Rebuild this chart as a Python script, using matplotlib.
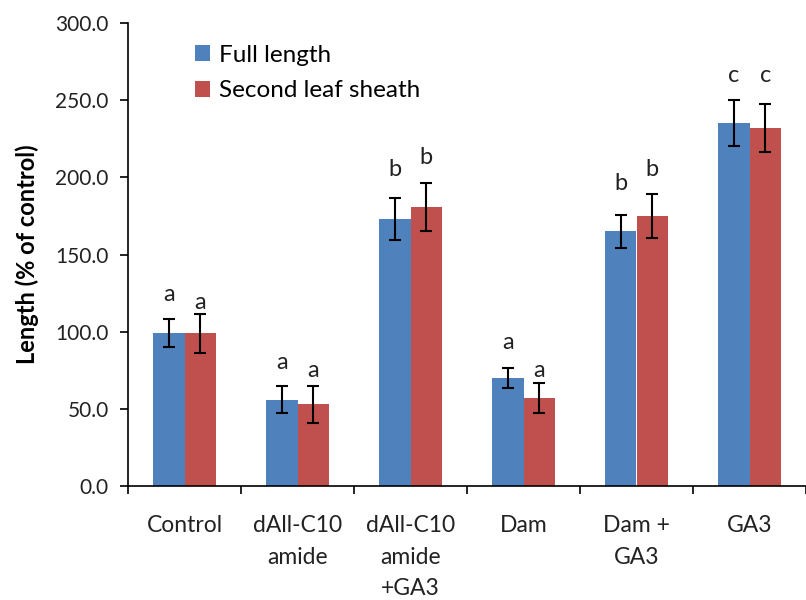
import numpy as np
import matplotlib.pyplot as plt

plt.rcParams['font.family'] = ['Lato', 'DejaVu Sans']

# data
categories = ['Control', 'dAll-C10\namide', 'dAll-C10\namide\n+GA3', 'Dam', 'Dam +\nGA3', 'GA3']
full_length = [99, 56, 173, 70, 165, 235]
full_err = [9, 9, 13.5, 6.5, 10.5, 15]
sheath = [99, 53, 181, 57, 175, 232]
sheath_err = [12.5, 12, 15.5, 9.5, 14.5, 15.5]
full_letters = ['a', 'a', 'b', 'a', 'b', 'c']
sheath_letters = ['a', 'a', 'b', 'a', 'b', 'c']
full_letter_y = [124, 80, 205, 93, 196, 266]
sheath_letter_y = [119, 75, 213, 75, 205, 266]

blue = '#4F81BD'
red = '#C0504D'

fig = plt.figure(figsize=(8.06, 6.0), dpi=100)
ax = fig.add_axes([128 / 806, 1 - 486 / 600, 1 - 128 / 806, (486 - 23) / 600])

x = np.arange(len(categories))
w = 0.28

ax.bar(x - w / 2, full_length, w, color=blue, label='Full length')
ax.bar(x + w / 2, sheath, w, color=red, label='Second leaf sheath')
ax.errorbar(x - w / 2, full_length, yerr=full_err, fmt='none', ecolor='black',
            elinewidth=1.5, capsize=4.5, capthick=1.5)
ax.errorbar(x + w / 2, sheath, yerr=sheath_err, fmt='none', ecolor='black',
            elinewidth=1.5, capsize=4.5, capthick=1.5)

for i in range(len(categories)):
    ax.text(x[i] - w / 2, full_letter_y[i], full_letters[i], ha='center', va='center',
            fontsize=17, color='#222222')
    ax.text(x[i] + w / 2, sheath_letter_y[i], sheath_letters[i], ha='center', va='center',
            fontsize=17, color='#222222')

ax.set_xlim(-0.5, -0.5 + (806 - 128) / 113.7)
ax.set_ylim(0, 300)
ax.set_yticks(np.arange(0, 301, 50))
ax.set_yticklabels(['%.1f' % v for v in np.arange(0, 301, 50)], fontsize=15, color='#222222')

# ticks at category boundaries, labels at centers
ax.set_xticks(np.arange(-0.5, len(categories) + 0.5, 1))
ax.set_xticklabels([])
ax.set_xticks(x, minor=True)
ax.set_xticklabels(categories, minor=True, fontsize=16.5, color='#222222', linespacing=1.62)
ax.tick_params(axis='x', which='minor', length=0, pad=21)
ax.tick_params(axis='x', which='major', direction='out', length=6, width=1.2)
ax.tick_params(axis='y', direction='out', length=6, width=1.2, pad=8)

for s in ['top', 'right']:
    ax.spines[s].set_visible(False)
for s in ['left', 'bottom']:
    ax.spines[s].set_linewidth(1.2)

ax.set_ylabel('Length (% of control)', fontsize=17, fontweight='bold', labelpad=12)

ax.legend(loc='upper left', bbox_to_anchor=(0.066, 1.0), frameon=False, fontsize=17.5,
          handlelength=0.65, handleheight=0.65, handletextpad=0.35, labelspacing=0.6)

fig.savefig('out.png', dpi=100)
